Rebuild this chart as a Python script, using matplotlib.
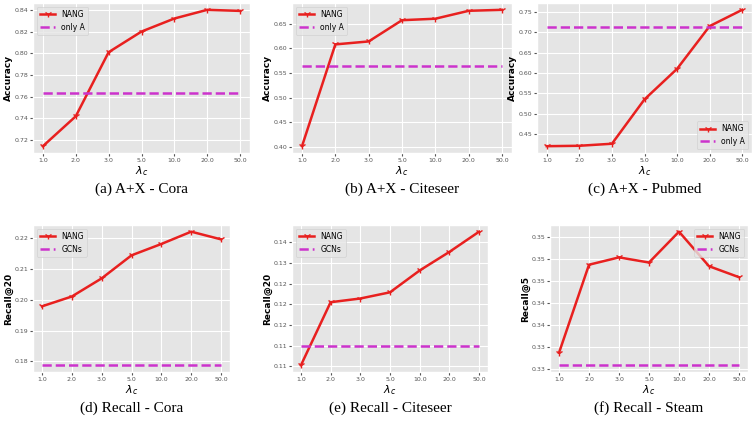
import matplotlib
matplotlib.use("Agg")
import matplotlib.pyplot as plt

lam_labels = ["1.0", "2.0", "3.0", "5.0", "10.0", "20.0", "50.0"]

acc_cora = [0.7145, 0.742, 0.801, 0.820, 0.832, 0.840, 0.839]
base_acc_cora = 0.763
acc_citeseer = [0.402, 0.608, 0.614, 0.657, 0.660, 0.676, 0.678]
base_acc_citeseer = 0.565
acc_pubmed = [0.420, 0.421, 0.426, 0.535, 0.610, 0.715, 0.755]
base_acc_pubmed = 0.712
rec_cora = [0.1979, 0.2011, 0.2070, 0.2145, 0.2182, 0.2222, 0.2197]
base_rec_cora = 0.1787
rec_citeseer = [0.1052, 0.1205, 0.1214, 0.1229, 0.1282, 0.1327, 0.1376]
base_rec_citeseer = 0.1099
rec_steam = [0.3322, 0.3442, 0.3452, 0.3445, 0.3487, 0.3440, 0.3425]
base_rec_steam = 0.3305

citeseer_ticks = [0.105, 0.110, 0.115, 0.120, 0.125, 0.130, 0.135]
citeseer_ticklabels = ["0.11", "0.11", "0.12", "0.12", "0.12", "0.13", "0.14"]
steam_ticks = [0.330, 0.333, 0.336, 0.339, 0.342, 0.345, 0.348]
steam_ticklabels = ["0.33", "0.33", "0.34", "0.34", "0.35", "0.35", "0.35"]

plt.style.use("ggplot")
fig = plt.figure(figsize=(7.54, 4.24), dpi=100)
W, H = 754, 424

panels = [
    (acc_cora, base_acc_cora, "only A", "Accuracy", "(a) A+X - Cora", (33, 3, 250, 153), "upper left", None, None),
    (acc_citeseer, base_acc_citeseer, "only A", "Accuracy", "(b) A+X - Citeseer", (292, 3, 512, 153), "upper left", None, None),
    (acc_pubmed, base_acc_pubmed, "only A", "Accuracy", "(c) A+X - Pubmed", (537, 3, 752, 153), "lower right", None, None),
    (rec_cora, base_rec_cora, "GCNs", "Recall@20", "(d) Recall - Cora", (33, 225, 230, 372), "upper left", None, None),
    (rec_citeseer, base_rec_citeseer, "GCNs", "Recall@20", "(e) Recall - Citeseer", (292, 225, 488, 372), "upper left", citeseer_ticks, citeseer_ticklabels),
    (rec_steam, base_rec_steam, "GCNs", "Recall@5", "(f) Recall - Steam", (550, 225, 748, 372), "upper right", steam_ticks, steam_ticklabels),
]

x = list(range(len(lam_labels)))
for vals, base, blabel, ylab, cap, (l, t, r, b), loc, yt, ytl in panels:
    ax = fig.add_axes([l / W, 1 - b / H, (r - l) / W, (b - t) / H])
    ax.plot(x, vals, color="#e8201f", lw=1.8, marker="1", ms=5, label="NANG")
    ax.plot(x, [base] * len(x), color="#cc33cc", lw=1.8, ls="--", label=blabel)
    ax.set_xticks(x)
    ax.set_xticklabels(lam_labels)
    if yt is not None:
        ax.set_yticks(yt)
        ax.set_yticklabels(ytl)
    ax.tick_params(labelsize=4.5, colors="#555555", length=2, pad=1.5)
    ax.set_xlabel(r"$\lambda_c$", fontsize=8, color="black", labelpad=1)
    ax.set_ylabel(ylab, fontsize=6.5, fontweight="bold", color="black", labelpad=1)
    ax.legend(loc=loc, fontsize=5.5, facecolor="#e5e5e5", framealpha=0.8)
    cx = (l + r) / 2 / W
    cy = 1 - (b + 36) / H
    fig.text(cx, cy, cap, ha="center", va="center", fontsize=11, family="Liberation Serif")

fig.savefig("out.png", dpi=100)
